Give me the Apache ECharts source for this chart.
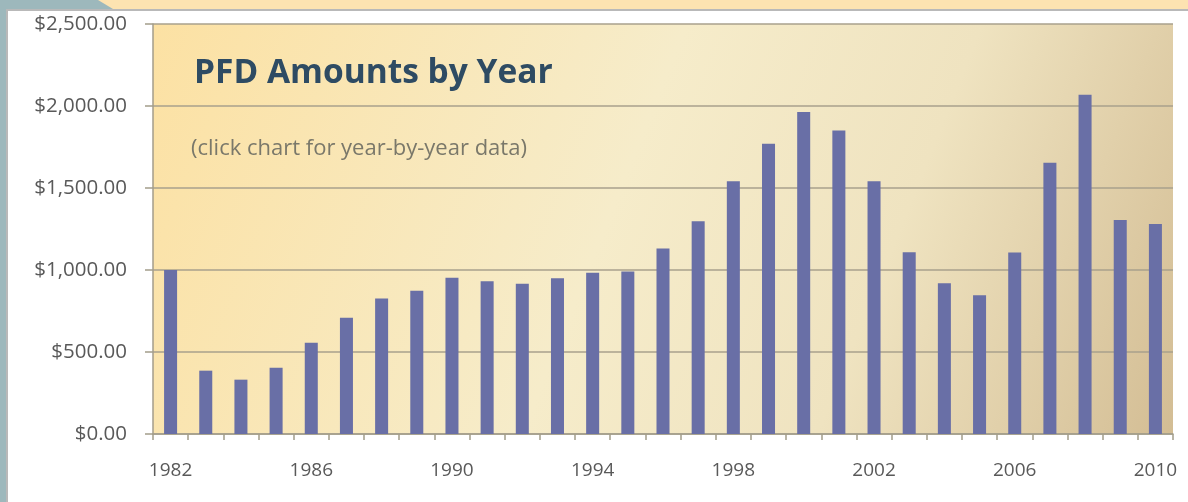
<!DOCTYPE html>
<html>
<head>
<meta charset="utf-8">
<script src="https://cdn.jsdelivr.net/npm/echarts@6/dist/echarts.min.js"></script>
<style>
html,body{margin:0;padding:0;background:#fff;}
#chart{width:1188px;height:502px;}
</style>
</head>
<body>
<div id="chart"></div>
<script>
var years = ['1982','1983','1984','1985','1986','1987','1988','1989','1990','1991','1992','1993','1994','1995','1996','1997','1998','1999','2000','2001','2002','2003','2004','2005','2006','2007','2008','2009','2010'];
var amounts = [1000.00, 386.15, 331.29, 404.00, 556.26, 708.19, 826.93, 873.16, 952.63, 931.34, 915.84, 949.46, 983.90, 990.30, 1130.68, 1296.54, 1540.88, 1769.84, 1963.86, 1850.28, 1540.76, 1107.56, 919.84, 845.76, 1106.96, 1654.00, 2069.00, 1305.00, 1281.00];
var titleText = 'PFD Amounts by Year';
var subtitleText = '(click chart for year-by-year data)';

var chart = echarts.init(document.getElementById('chart'));
chart.setOption({
  animation: false,
  backgroundColor: '#ffffff',
  graphic: [
    {type:'rect', z:-1, shape:{x:0,y:0,width:1188,height:9}, style:{fill:'#fde3b1'}},
    {type:'polygon', z:-1, shape:{points:[[0,0],[98,0],[113,9],[0,9]]}, style:{fill:'#9db8bc'}},
    {type:'rect', z:-1, shape:{x:0,y:0,width:6,height:502}, style:{fill:'#9db8bc'}},
    {type:'rect', z:-1, shape:{x:6,y:9,width:1182,height:2}, style:{fill:'#b9b9b9'}},
    {type:'rect', z:-1, shape:{x:6,y:9,width:2,height:493}, style:{fill:'#b9b9b9'}}
  ],
  title: [
    {text: titleText, left: 189, top: 51, textStyle:{fontFamily:'Open Sans', fontWeight:'bold', fontSize:33.5, color:'#2e4b63'}},
    {text: subtitleText, left: 186, top: 133, textStyle:{fontFamily:'Open Sans', fontWeight:'normal', fontSize:22, color:'#7a786a'}}
  ],
  grid: {
    left: 153, right: 15, top: 24, bottom: 68,
    show: true,
    borderWidth: 0,
    backgroundColor: {
      type:'linear', x:0, y:0, x2:1, y2:1,
      colorStops:[
        {offset:0, color:'#fce1a3'},
        {offset:0.45, color:'#f6ecca'},
        {offset:0.7, color:'#efe3c0'},
        {offset:1, color:'#d3bd94'}
      ]
    }
  },
  xAxis: {
    type: 'category',
    data: years,
    boundaryGap: true,
    axisLine: {show:true, lineStyle:{color:'#a39d8b', width:1.5}},
    axisTick: {show:true, interval:0, length:6, lineStyle:{color:'#a39d8b', width:1.5}},
    axisLabel: {interval:3, margin:27, fontFamily:'Open Sans', fontSize:19, color:'#595959'}
  },
  yAxis: {
    type: 'value',
    min: 0, max: 2500, interval: 500,
    axisLine: {show:true, lineStyle:{color:'#a39d8b', width:1.5}},
    axisTick: {show:true, length:8, lineStyle:{color:'#a39d8b', width:1.5}},
    splitLine: {show:true, lineStyle:{color:'#a8a18c', width:1.5}},
    axisLabel: {
      margin: 26, fontFamily:'Open Sans', fontSize:20.5, color:'#595959',
      formatter: function(v){ return '$' + v.toLocaleString('en-US',{minimumFractionDigits:2, maximumFractionDigits:2}); }
    }
  },
  series: [{
    type: 'bar',
    data: amounts,
    barWidth: '37%',
    itemStyle: {color:'#696fa6'}
  }]
});
</script>
</body>
</html>
